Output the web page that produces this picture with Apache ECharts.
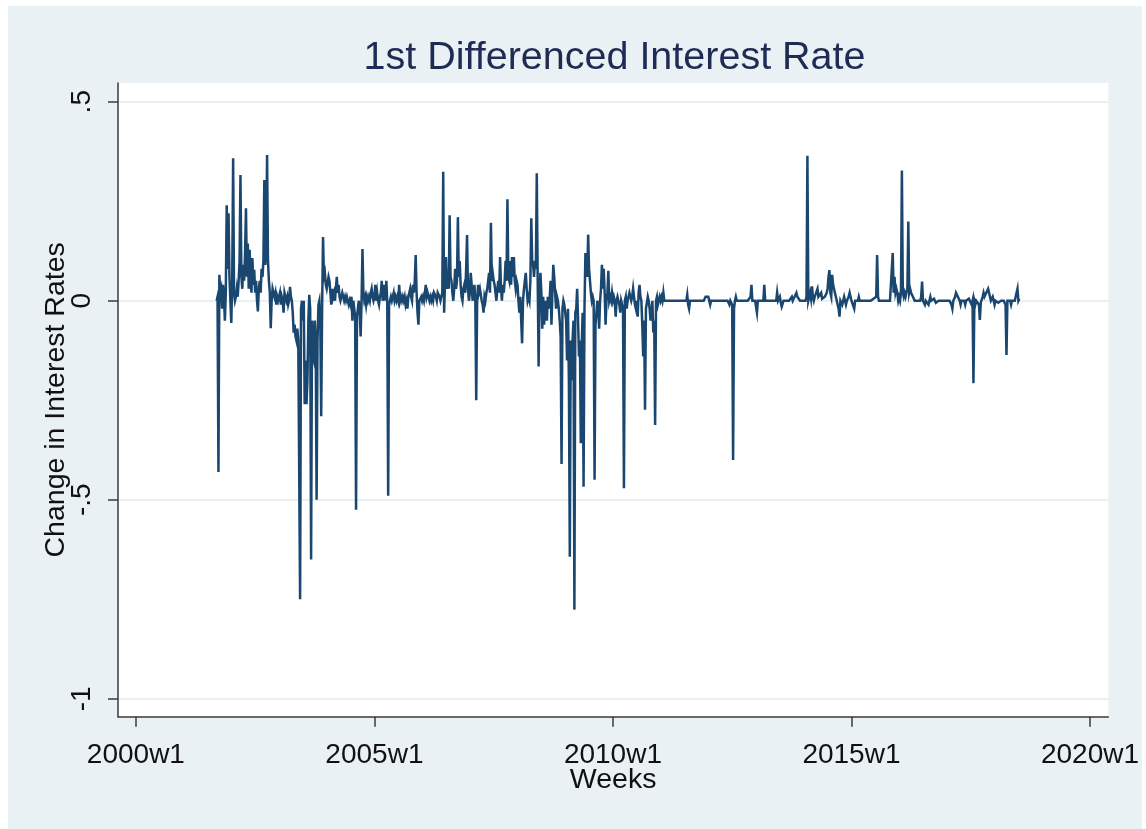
<!DOCTYPE html>
<html>
<head>
<meta charset="utf-8">
<title>1st Differenced Interest Rate</title>
<script src="https://cdn.jsdelivr.net/npm/echarts@6/dist/echarts.min.js"></script>
<style>
  html, body { margin: 0; padding: 0; background: #ffffff; }
  #chart { position: absolute; left: 8px; top: 6px; width: 1134px; height: 823px; }
</style>
</head>
<body>
<div id="chart"></div>
<script>
// Weekly first differences of the interest rate, one array per year.
// Stata weekly calendar: 52 weeks per year; rows hold 13 weeks each.
const d2001 = [ // from 2001w37
  0, 0.01, -0.43, 0.065, 0.02, 0.03, -0.02, 0.04, 0.01, -0.05, 0.02, 0.24, 0.08, 0.22, 0.06, 0
];
const d2002 = [
  -0.056, 0.05, 0.358, 0.02, 0, 0.01, 0.03, 0.01, 0.05, 0.1, 0.316, 0.06, 0.03,
  0.09, 0.05, 0.12, 0.232, 0.06, 0.144, 0.03, 0.128, 0.05, 0.02, 0.107, 0.04, 0.078,
  0.02, 0.05, 0, -0.027, 0.03, 0.05, 0.02, 0.08, 0.06, 0.1, 0.303, 0.09, 0.12,
  0.366, 0.1, 0.05, 0.02, -0.069, 0, 0.03, 0.02, 0.01, 0.02, -0.01, 0.01, 0
];
const d2003 = [
  0.01, 0.02, -0.01, 0.01, 0, -0.03, 0.02, 0.01, 0, 0.01, -0.01, 0, 0.035,
  0.01, 0, -0.03, -0.08, -0.06, -0.09, -0.1, -0.07, -0.1, -0.1, -0.75, -0.02, 0,
  -0.05, 0, -0.26, -0.15, -0.26, -0.2, -0.05, 0.015, -0.02, -0.65, -0.05, -0.14, -0.15,
  -0.05, -0.1, -0.5, -0.1, -0.01, 0, -0.05, -0.29, -0.02, 0.16, 0.06, 0.07, 0.04
];
const d2004 = [
  0.03, 0.03, 0.06, 0.05, 0.02, -0.01, 0.03, 0.01, 0.02, 0, 0.03, 0.06, 0.02,
  0.04, 0.01, 0, 0, 0.02, 0.01, 0, 0.01, 0, 0.01, 0, -0.01, 0,
  -0.01, 0.01, -0.05, 0, -0.02, -0.04, -0.525, -0.04, -0.02, 0, -0.03, -0.09, 0,
  0.13, 0.02, 0, 0.01, -0.01, 0.01, 0, 0.01, 0, 0.02, 0.03, 0.01, 0
];
const d2005 = [
  0.01, 0.04, 0, 0.02, 0, -0.01, 0.01, 0.02, 0.05, 0, 0.02, 0.04, 0,
  0.05, 0, -0.49, -0.01, 0, 0.01, 0, 0.01, 0.02, 0, 0.01, 0, 0.01,
  0, 0.04, 0, 0.01, 0, 0.01, 0, 0.01, -0.01, 0, -0.02, 0.01, 0.02,
  0.03, 0.01, 0, 0.04, 0.02, 0.05, 0.115, 0.02, -0.03, -0.06, 0, 0, 0.01
];
const d2006 = [
  0, 0.01, 0, 0.02, 0.04, 0.01, 0.02, 0.01, 0, 0.01, 0, 0.01, 0,
  0.02, 0.02, 0.01, 0, 0.02, 0.02, 0.01, 0, 0.01, 0.02, 0.324, -0.03, 0.05,
  0.11, 0.03, 0.05, 0.03, 0.215, 0.06, 0.05, 0.02, 0, 0.03, 0.08, 0.03, 0.05,
  0.21, 0.06, 0.1, 0.04, 0.01, 0, 0.03, 0.04, 0.02, 0.08, 0.165, 0.03, 0
];
const d2007 = [
  0.02, 0.07, 0.04, 0, 0.02, 0.04, 0, -0.25, 0, 0.04, 0.02, 0.03, 0.03,
  0, -0.01, -0.03, 0.01, 0, 0.02, 0.03, 0.05, 0.07, 0.02, 0.196, 0.05, 0.069,
  0.05, 0.04, 0.02, 0, 0.03, 0.05, 0.02, 0.11, 0.03, 0, 0.04, 0.02, 0.05,
  0.1, 0.05, 0.255, 0.06, 0.05, 0.1, 0.04, 0.11, 0.06, 0.11, 0.05, 0.03, 0.05
];
const d2008 = [
  0.04, 0, -0.03, 0.01, -0.05, -0.107, 0, 0.03, 0.05, 0.07, 0.03, 0, 0.01,
  0, 0.05, 0.207, 0.1, 0.09, 0.06, 0.1, 0.08, 0.32, 0.05, -0.165, 0.02, 0.07,
  0.02, -0.07, 0.01, -0.06, 0, -0.03, -0.05, 0.01, -0.02, 0, 0.05, -0.06, 0.02,
  0.09, 0.06, 0.02, -0.02, 0.01, 0, -0.02, -0.05, -0.09, -0.41, -0.02, 0, -0.01
];
const d2009 = [
  -0.01, -0.05, -0.15, -0.02, -0.2, -0.643, -0.1, -0.2, -0.1, -0.05, -0.776, -0.03, -0.02,
  0.03, -0.05, -0.14, -0.1, -0.358, -0.11, -0.03, -0.467, -0.02, 0.12, 0.1, 0.06, 0.166,
  0.08, 0.05, 0.02, 0, 0.01, 0, -0.45, -0.06, -0.03, 0, -0.02, -0.07, 0,
  0.03, 0.09, 0.03, 0.08, 0.02, -0.06, 0, 0.02, 0.075, 0, 0.01, 0, 0.02
];
const d2010 = [
  0, 0.01, 0, -0.04, 0, 0.01, 0, -0.01, -0.03, 0, 0, -0.02, -0.471,
  0, 0.01, -0.02, 0, 0.01, 0.02, 0.01, 0, 0.01, 0.03, 0.01, -0.01, -0.02,
  0, -0.04, 0.02, 0.04, 0.01, 0, -0.06, -0.14, -0.05, -0.274, -0.02, -0.02, 0.01,
  0, -0.02, -0.05, -0.03, 0, -0.08, -0.05, -0.312, 0, 0.01, -0.01, 0, 0.01
];
const d2011 = [
  0, 0.01, 0, 0.02, 0, 0, 0, 0, 0, 0, 0, 0, 0,
  0, 0, 0, 0, 0, 0, 0, 0, 0, 0, 0, 0, 0,
  0, 0, 0, 0.015, -0.01, -0.02, 0, 0, 0, 0, 0, 0, 0,
  0, 0, 0, 0, 0, 0, 0, 0, 0, 0, 0.01, 0.005, 0.005
];
const d2012 = [
  0.01, 0, -0.01, 0, 0, 0, 0, 0, 0, 0, 0, 0, 0,
  0, 0, 0, 0, 0, 0, 0, 0, 0, 0, -0.01, 0, 0,
  -0.01, -0.4, -0.02, 0, 0.01, 0, 0, 0.005, 0, -0.005, 0, 0, 0,
  0, 0, 0, 0, 0, 0, 0, 0.01, 0.04, 0, 0, 0, 0
];
const d2013 = [
  0, -0.03, 0, 0, 0, 0, 0, 0, 0, 0.04, 0, 0, 0,
  0, 0, 0, 0, 0, 0, 0, 0, 0, 0, 0.02, 0, -0.005,
  0.01, -0.005, -0.015, -0.01, 0, 0, 0, 0, 0, 0, 0, 0, 0,
  0.01, 0, 0, 0.01, 0.005, 0.02, 0.01, 0.005, 0.01, 0, 0, 0.005, 0
];
const d2014 = [
  0, 0.005, 0, 0.01, 0.364, 0, 0.01, 0.02, 0.005, 0.036, 0.01, 0, 0.01,
  0.005, 0.01, 0.03, 0.01, 0.005, 0.01, 0.02, 0.005, 0, 0.01, 0.01, 0.005, 0.02,
  0.03, 0.06, 0.077, 0.02, 0.01, 0.065, 0.04, 0.03, 0.02, 0.01, 0, -0.01, -0.02,
  -0.04, 0, 0.005, -0.01, 0, 0.01, 0, -0.01, 0, 0, 0.01, 0.02, 0.01
];
const d2015 = [
  0, 0, -0.005, -0.02, 0, 0.005, 0, 0, 0.01, 0, 0, 0.005, 0,
  -0.005, 0, 0, 0, 0.005, 0, 0, 0.005, 0, 0, 0, 0.005, 0,
  0, 0.01, 0.115, 0.01, 0, 0, 0, 0, 0, 0, 0, 0, 0,
  0, 0, 0, 0, 0, 0, 0.12, 0.02, 0.06, 0.02, 0.03, 0.02, 0
];
const d2016 = [
  0.01, 0, 0.02, 0.327, 0.02, 0.01, 0.02, 0.01, 0.02, 0.03, 0.199, 0.02, 0.03,
  0.02, 0.02, 0.01, 0.01, 0, 0.005, -0.005, 0, 0, 0.005, 0, 0.01, 0.048,
  0, 0, -0.01, 0, 0, 0.005, -0.01, 0, 0.01, 0, 0, 0, 0.005,
  0, -0.005, 0, 0, 0, 0, 0.005, 0, 0, 0, 0, -0.005, 0
];
const d2017 = [
  0, -0.005, 0, 0, 0, -0.01, -0.02, 0, 0.005, 0.01, 0.02, 0.02, 0.01,
  0.01, 0, -0.01, 0, 0, 0.005, 0, -0.01, 0, 0, 0, 0.005, 0.01,
  0.005, -0.01, 0, -0.207, 0, -0.01, 0, 0, 0, -0.01, -0.048, -0.005, 0,
  0.01, 0.02, 0.01, 0.01, 0.02, 0.02, 0.03, 0.02, 0.02, 0, 0.005, 0.01, 0
];
const d2018 = [ // through 2018w28
  -0.01, 0, 0, -0.005, -0.005, 0, 0, 0, 0, 0, 0, 0, -0.01,
  -0.136, 0, 0, 0, 0, -0.01, 0, 0, 0, 0, 0.01, 0.01, 0.03,
  0, 0.005
];

// year, first week present, values
const yearBlocks = [
  [2001, 37, d2001], [2002, 1, d2002], [2003, 1, d2003], [2004, 1, d2004],
  [2005, 1, d2005], [2006, 1, d2006], [2007, 1, d2007], [2008, 1, d2008],
  [2009, 1, d2009], [2010, 1, d2010], [2011, 1, d2011], [2012, 1, d2012],
  [2013, 1, d2013], [2014, 1, d2014], [2015, 1, d2015], [2016, 1, d2016],
  [2017, 1, d2017], [2018, 1, d2018]
];

// Axis ticks: x in weeks since 2000w1
const xTickWeeks = [0, 260, 520, 780, 1040];
const xTickLabels = ['2000w1', '2005w1', '2010w1', '2015w1', '2020w1'];
const yTickValues = [-1, -0.5, 0, 0.5];
const yTickLabels = ['-1', '-.5', '0', '.5'];

const weeksPerYear = 52;
const points = [];
yearBlocks.forEach(([year, firstWeek, vals]) => {
  vals.forEach((v, i) => {
    points.push([(year - 2000) * weeksPerYear + (firstWeek - 1) + i, v]);
  });
});

const font = '"Liberation Sans", Arial, Helvetica, sans-serif';
const axisColor = '#3a3a3a';
const textColor = '#111111';

const chart = echarts.init(document.getElementById('chart'), null, { renderer: 'canvas' });
chart.setOption({
  animation: false,
  backgroundColor: '#eaf1f4',
  graphic: [{
    type: 'text',
    x: 606.5,
    y: 52.5,
    style: {
      text: '1st Differenced Interest Rate',
      font: 'normal 39.5px ' + font,
      fill: '#1e2c55',
      textAlign: 'center',
      textVerticalAlign: 'middle'
    }
  }],
  grid: {
    left: 110, top: 77, width: 994.7, height: 633.7,
    show: true, backgroundColor: '#ffffff', borderWidth: 0
  },
  xAxis: {
    type: 'value',
    min: -19.5,
    max: 1060,
    name: 'Weeks',
    nameLocation: 'middle',
    nameGap: 49,
    nameMoveOverlap: false,
    nameTextStyle: { fontFamily: font, fontSize: 28.5, color: textColor },
    axisLine: { show: true, onZero: false, lineStyle: { color: axisColor, width: 1.5 } },
    axisTick: { show: true, length: 10, customValues: xTickWeeks, lineStyle: { color: axisColor, width: 1.5 } },
    axisLabel: {
      customValues: xTickWeeks,
      formatter: v => xTickLabels[xTickWeeks.indexOf(v)],
      fontFamily: font, fontSize: 28, color: textColor, margin: 25
    },
    splitLine: { show: false }
  },
  yAxis: {
    type: 'value',
    min: -1.045,
    max: 0.547,
    name: 'Change in Interest Rates',
    nameLocation: 'middle',
    nameRotate: 90,
    nameGap: 47,
    nameMoveOverlap: false,
    nameTextStyle: { fontFamily: font, fontSize: 28.5, color: textColor },
    axisLine: { show: true, onZero: false, lineStyle: { color: axisColor, width: 1.5 } },
    axisTick: { show: true, length: 10, customValues: yTickValues, lineStyle: { color: axisColor, width: 1.5 } },
    axisLabel: {
      customValues: yTickValues,
      rotate: 90,
      formatter: v => yTickLabels[yTickValues.indexOf(v)],
      fontFamily: font, fontSize: 28, color: textColor, margin: 22
    },
    splitLine: { show: true, lineStyle: { color: '#e3ebee', width: 1.5 } }
  },
  series: [{
    type: 'line',
    data: points,
    showSymbol: false,
    symbol: 'none',
    clip: true,
    lineStyle: { color: '#1a476f', width: 2.5, join: 'miter' }
  }]
});
</script>
</body>
</html>
